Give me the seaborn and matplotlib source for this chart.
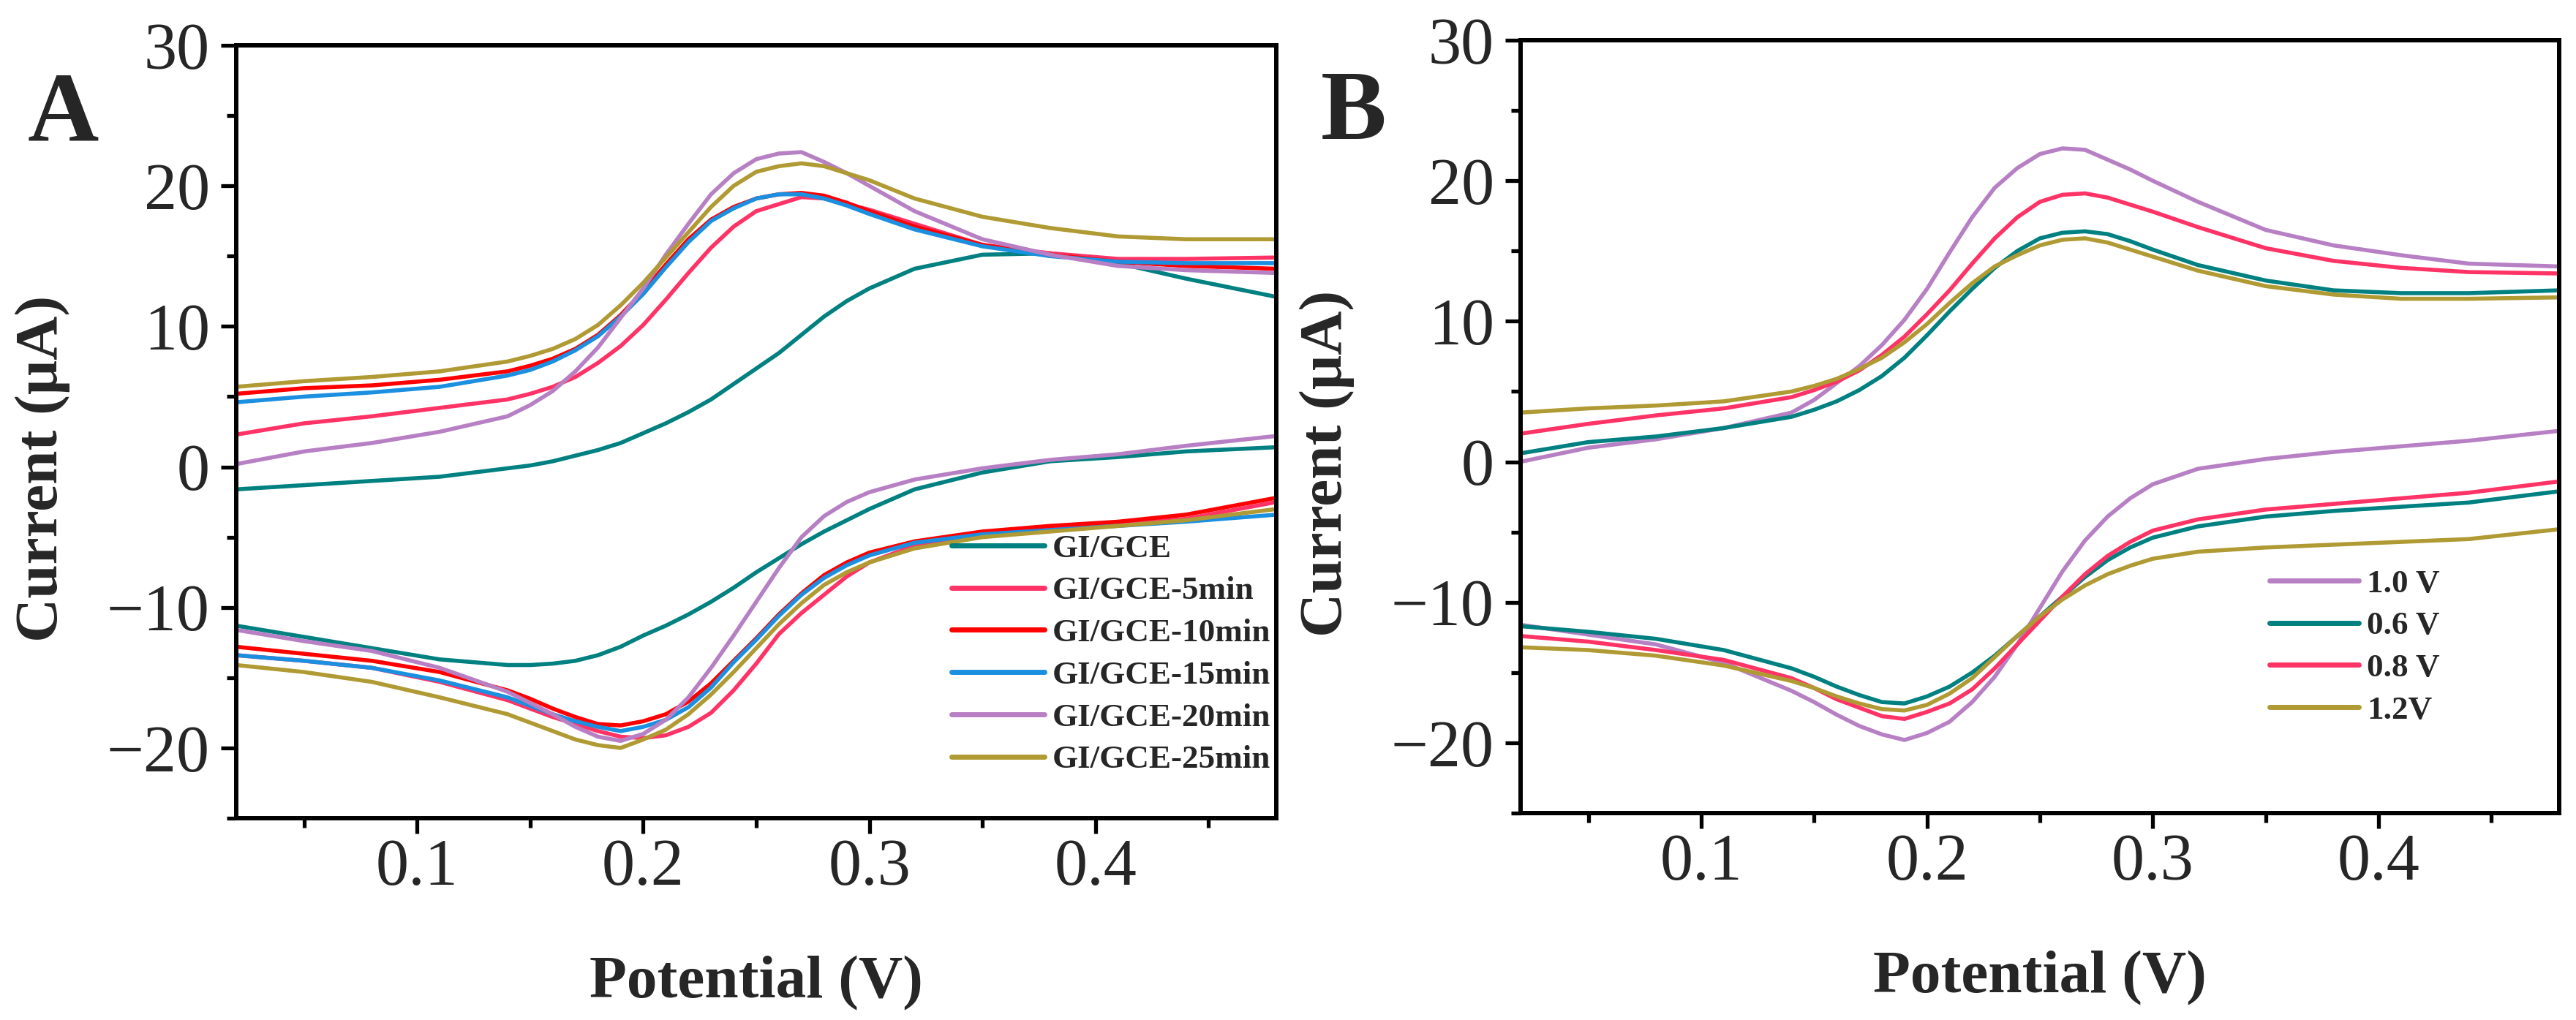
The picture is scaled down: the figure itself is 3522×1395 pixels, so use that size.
import numpy as np
import pandas as pd
import matplotlib
matplotlib.use("Agg")
import matplotlib.pyplot as plt
import seaborn as sns
from matplotlib.ticker import MultipleLocator

# ---------------- data ----------------
# forward (anodic) scan potentials and reverse (cathodic) scan potentials, V
x_fwd = [0.02, 0.05, 0.08, 0.11, 0.14, 0.15, 0.16, 0.17, 0.18, 0.19,
         0.20, 0.21, 0.22, 0.23, 0.24, 0.25, 0.26, 0.27, 0.28, 0.29,
         0.30, 0.32, 0.35, 0.38, 0.41, 0.44, 0.48]
x_rev = [0.48, 0.44, 0.41, 0.38, 0.35, 0.32, 0.30, 0.29, 0.28, 0.27,
         0.26, 0.25, 0.24, 0.23, 0.22, 0.21, 0.20, 0.19, 0.18, 0.17,
         0.16, 0.15, 0.14, 0.11, 0.08, 0.05, 0.02]

# Panel A (current, uA)
labels_a = ["GI/GCE", "GI/GCE-5min", "GI/GCE-10min",
            "GI/GCE-15min", "GI/GCE-20min", "GI/GCE-25min"]
a_gce_up = [-1.6, -1.3, -1.0, -0.7, -0.1, 0.1, 0.4, 0.8, 1.2, 1.7,
            2.4, 3.1, 3.9, 4.8, 5.9, 7.0, 8.1, 9.4, 10.7, 11.8,
            12.7, 14.1, 15.1, 15.2, 14.5, 13.4, 12.1]
a_gce_dn = [1.4, 1.1, 0.7, 0.4, -0.4, -1.6, -3.0, -3.8, -4.6, -5.5,
            -6.5, -7.5, -8.6, -9.6, -10.5, -11.3, -12.0, -12.8, -13.4, -13.8,
            -14.0, -14.1, -14.1, -13.7, -12.9, -12.1, -11.3]
a_05_up = [2.3, 3.1, 3.6, 4.2, 4.8, 5.2, 5.7, 6.4, 7.4, 8.6,
           10.1, 11.9, 13.8, 15.6, 17.1, 18.2, 18.7, 19.2, 19.1, 18.7,
           18.3, 17.3, 15.8, 15.2, 14.8, 14.8, 14.9]
a_05_dn = [-2.5, -3.7, -4.1, -4.4, -4.7, -5.6, -6.8, -7.8, -9.1, -10.4,
           -11.9, -14.0, -15.9, -17.5, -18.5, -19.1, -19.3, -19.2, -18.8, -18.3,
           -17.8, -17.2, -16.6, -15.3, -14.3, -13.8, -13.4]
a_10_up = [5.2, 5.6, 5.8, 6.2, 6.8, 7.2, 7.7, 8.4, 9.4, 10.8,
           12.5, 14.4, 16.2, 17.6, 18.5, 19.1, 19.4, 19.5, 19.3, 18.8,
           18.2, 17.1, 15.8, 15.1, 14.6, 14.3, 14.1]
a_10_dn = [-2.2, -3.4, -3.9, -4.2, -4.6, -5.3, -6.1, -6.8, -7.7, -9.0,
           -10.5, -12.2, -13.8, -15.4, -16.7, -17.6, -18.1, -18.4, -18.3, -17.8,
           -17.2, -16.5, -15.9, -14.6, -13.8, -13.3, -12.8]
a_15_up = [4.6, 5.0, 5.3, 5.7, 6.5, 6.9, 7.5, 8.3, 9.3, 10.7,
           12.3, 14.2, 16.0, 17.5, 18.4, 19.1, 19.4, 19.4, 19.1, 18.6,
           18.0, 16.9, 15.7, 15.0, 14.6, 14.5, 14.5]
a_15_dn = [-3.4, -3.9, -4.2, -4.5, -4.8, -5.4, -6.3, -7.0, -7.9, -9.1,
           -10.6, -12.3, -13.9, -15.7, -17.1, -18.0, -18.5, -18.8, -18.5, -18.1,
           -17.6, -17.0, -16.4, -15.2, -14.3, -13.8, -13.4]
a_20_up = [0.2, 1.1, 1.7, 2.5, 3.6, 4.4, 5.4, 6.8, 8.5, 10.6,
           12.7, 15.1, 17.3, 19.4, 20.9, 21.9, 22.3, 22.4, 21.7, 20.9,
           20.0, 18.2, 16.2, 15.1, 14.3, 14.0, 13.8]
a_20_dn = [2.2, 1.5, 0.9, 0.5, -0.1, -0.9, -1.8, -2.5, -3.5, -5.0,
           -7.2, -9.6, -12.0, -14.3, -16.4, -18.0, -19.0, -19.5, -19.2, -18.5,
           -17.6, -16.8, -16.0, -14.3, -13.1, -12.4, -11.6]
a_25_up = [5.7, 6.1, 6.4, 6.8, 7.5, 7.9, 8.4, 9.1, 10.1, 11.5,
           13.1, 14.9, 16.7, 18.5, 20.0, 21.0, 21.4, 21.6, 21.4, 20.9,
           20.4, 19.1, 17.8, 17.0, 16.4, 16.2, 16.2]
a_25_dn = [-3.0, -3.8, -4.2, -4.6, -5.0, -5.8, -6.8, -7.5, -8.4, -9.7,
           -11.2, -12.9, -14.6, -16.2, -17.6, -18.7, -19.4, -20.0, -19.8, -19.4,
           -18.8, -18.2, -17.6, -16.4, -15.3, -14.6, -14.1]

# Panel B (current, uA)
labels_b = ["1.0 V", "0.6 V", "0.8 V", "1.2V"]
b_10_up = [0.0, 1.0, 1.6, 2.4, 3.5, 4.4, 5.6, 6.8, 8.3, 10.1,
           12.3, 14.9, 17.4, 19.5, 20.9, 21.9, 22.3, 22.2, 21.5, 20.8,
           20.0, 18.5, 16.5, 15.4, 14.7, 14.1, 13.9]
b_10_dn = [2.2, 1.5, 1.1, 0.7, 0.2, -0.5, -1.6, -2.6, -3.9, -5.6,
           -7.8, -10.4, -13.0, -15.3, -17.1, -18.5, -19.3, -19.8, -19.4, -18.8,
           -18.0, -17.1, -16.3, -14.3, -13.0, -12.3, -11.6]
b_06_up = [0.6, 1.4, 1.8, 2.4, 3.2, 3.7, 4.3, 5.1, 6.1, 7.4,
           9.0, 10.7, 12.3, 13.8, 15.0, 15.9, 16.3, 16.4, 16.2, 15.7,
           15.1, 14.0, 12.9, 12.2, 12.0, 12.0, 12.2]
b_06_dn = [-2.1, -2.9, -3.2, -3.5, -3.9, -4.6, -5.4, -6.1, -7.0, -8.2,
           -9.6, -11.0, -12.4, -13.8, -15.0, -16.0, -16.7, -17.2, -17.1, -16.6,
           -16.0, -15.3, -14.7, -13.4, -12.6, -12.1, -11.7]
b_08_up = [2.0, 2.7, 3.3, 3.8, 4.6, 5.1, 5.7, 6.5, 7.6, 8.9,
           10.5, 12.2, 14.1, 15.9, 17.4, 18.5, 19.0, 19.1, 18.8, 18.3,
           17.8, 16.7, 15.2, 14.3, 13.8, 13.5, 13.4]
b_08_dn = [-1.4, -2.2, -2.6, -3.0, -3.4, -4.1, -4.9, -5.7, -6.7, -8.0,
           -9.6, -11.3, -13.0, -14.7, -16.2, -17.2, -17.8, -18.3, -18.1, -17.5,
           -16.9, -16.1, -15.4, -14.1, -13.4, -12.8, -12.4]
b_12_up = [3.5, 3.8, 4.0, 4.3, 5.0, 5.4, 5.9, 6.6, 7.4, 8.5,
           9.8, 11.3, 12.7, 13.9, 14.7, 15.4, 15.8, 15.9, 15.6, 15.1,
           14.6, 13.6, 12.5, 11.9, 11.6, 11.6, 11.7]
b_12_dn = [-4.8, -5.5, -5.7, -5.9, -6.1, -6.4, -6.9, -7.4, -8.0, -8.8,
           -9.8, -11.0, -12.4, -13.9, -15.4, -16.5, -17.3, -17.7, -17.6, -17.2,
           -16.7, -16.1, -15.6, -14.5, -13.8, -13.4, -13.2]

colors_a = ["#008080", "#FF3366", "#FF0000", "#1B8FE0", "#B880C4", "#B09A33"]
colors_b = ["#B880C4", "#008080", "#FF3366", "#B09A33"]


def build(labels, ups, dns):
    frames = []
    for lab, up, dn in zip(labels, ups, dns):
        frames.append(pd.DataFrame({"E": x_fwd + x_rev, "I": up + dn,
                                    "series": lab}))
    return pd.concat(frames, ignore_index=True)


df_a = build(labels_a,
             [a_gce_up, a_05_up, a_10_up, a_15_up, a_20_up, a_25_up],
             [a_gce_dn, a_05_dn, a_10_dn, a_15_dn, a_20_dn, a_25_dn])
df_b = build(labels_b,
             [b_10_up, b_06_up, b_08_up, b_12_up],
             [b_10_dn, b_06_dn, b_08_dn, b_12_dn])

# ---------------- style ----------------
sns.set_style("ticks")
plt.rcParams["font.family"] = ["Liberation Serif", "DejaVu Serif"]

W, H = 3522, 1395
fig = plt.figure(figsize=(W / 100, H / 100), dpi=100)
fig.patch.set_facecolor("white")

ax_a = fig.add_axes([323 / W, 1 - 1119 / H, 1422 / W, 1057 / H])
ax_b = fig.add_axes([2079 / W, 1 - 1112 / H, 1420 / W, 1057 / H])


def style_axes(ax):
    ax.set_xlim(0.02, 0.48)
    ax.set_ylim(-25, 30)
    ax.xaxis.set_major_locator(MultipleLocator(0.1))
    ax.xaxis.set_minor_locator(MultipleLocator(0.05))
    ax.yaxis.set_major_locator(MultipleLocator(10))
    ax.yaxis.set_minor_locator(MultipleLocator(5))
    ax.set_xticks([0.1, 0.2, 0.3, 0.4])
    ax.set_xticklabels(["0.1", "0.2", "0.3", "0.4"])
    for s in ax.spines.values():
        s.set_linewidth(4.3)
        s.set_color("black")
        s.set_visible(True)
    ax.tick_params(axis="both", which="major", direction="out", length=15,
                   width=3.8, labelsize=65, color="black")
    ax.tick_params(axis="both", which="minor", direction="out", length=9.5,
                   width=3.8, color="black")
    ax.tick_params(axis="x", which="major", pad=5)
    ax.tick_params(axis="y", which="major", pad=11)
    ax.tick_params(top=False, right=False, which="both")
    ax.set_facecolor("white")
    ax.set_xlabel("Potential (V)", fontsize=60, fontweight="bold")
    ax.set_ylabel("Current (\u03bcA)", fontsize=60, fontweight="bold")
    ax.xaxis.label.set_va("baseline")
    ax.yaxis.label.set_va("baseline")
    ax.xaxis.set_label_coords(0.5, -0.232)
    ax.yaxis.set_label_coords(-245 / 1421, 0.452)


for ax, df, labels, colors in [(ax_a, df_a, labels_a, colors_a),
                               (ax_b, df_b, labels_b, colors_b)]:
    sns.lineplot(data=df, x="E", y="I", hue="series", hue_order=labels,
                 palette=dict(zip(labels, colors)), sort=False,
                 estimator=None, linewidth=4.0, ax=ax,
                 solid_joinstyle="round", solid_capstyle="round")
    style_axes(ax)

# legends
for ax, labels, anchor, hl in [(ax_a, labels_a, (0.688, 0.368), 2.8),
                               (ax_b, labels_b, (0.721, 0.316), 2.7)]:
    handles, labs = ax.get_legend_handles_labels()
    leg = ax.legend(handles, labs, loc="upper left", bbox_to_anchor=anchor,
                    frameon=False, borderpad=0, borderaxespad=0,
                    handlelength=hl, handletextpad=0.25, labelspacing=0.38,
                    prop={"family": ["Liberation Serif"], "weight": "bold",
                          "size": 32.5})
    for h in leg.get_lines():
        h.set_linewidth(5)
        h.set_solid_capstyle("round")

fig.text(86 / W, 1 - 192 / H, "A", ha="center", va="baseline",
         fontsize=97, fontweight="bold")
fig.text(1851 / W, 1 - 190 / H, "B", ha="center", va="baseline",
         fontsize=97, fontweight="bold")

fig.savefig("out.png", dpi=100, facecolor="white")
